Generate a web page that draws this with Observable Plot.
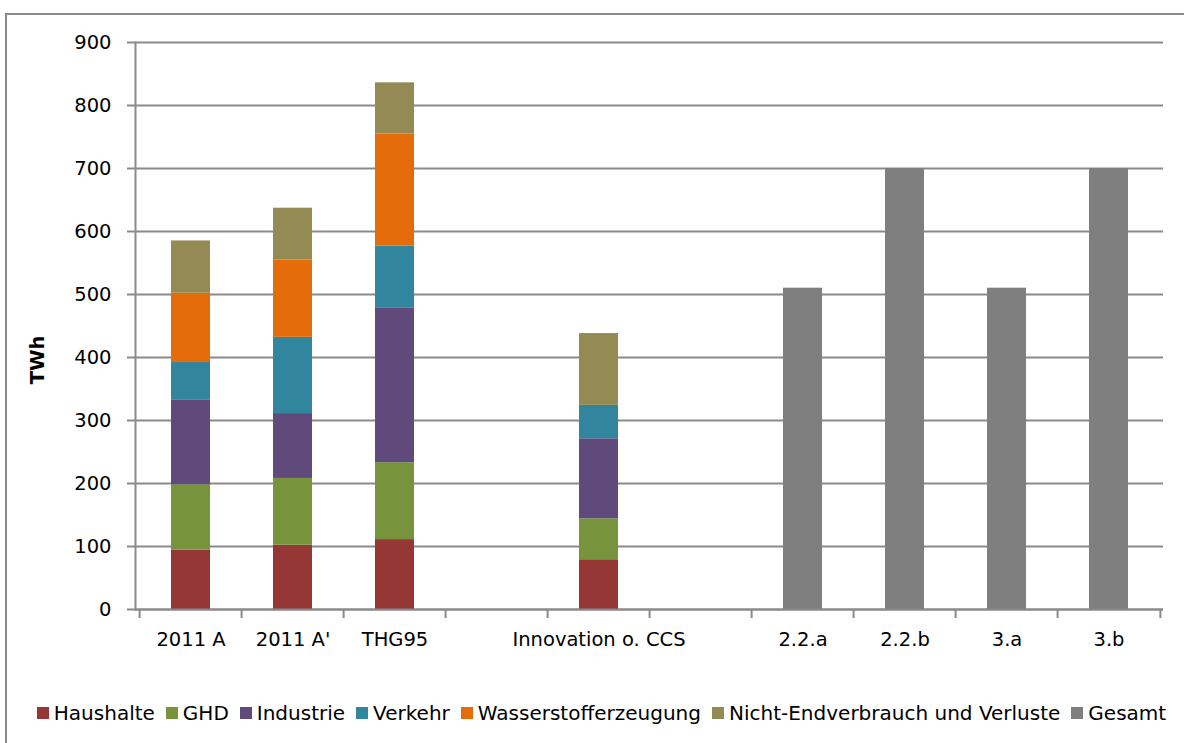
<!DOCTYPE html>
<html>
<head>
<meta charset="utf-8">
<script src="https://cdn.jsdelivr.net/npm/d3@7"></script>
<script src="https://cdn.jsdelivr.net/npm/@observablehq/plot@0.6"></script>
<style>
  html, body { margin: 0; padding: 0; background: #fff; }
  body { width: 1184px; height: 743px; position: relative; overflow: hidden; font-family: "DejaVu Sans", sans-serif; }
  #border { position: absolute; left: 5px; top: 13px; width: 1200px; height: 800px; border-left: 2px solid #8a8a8a; border-top: 2px solid #8a8a8a; box-sizing: border-box; }
  #chart { position: absolute; left: 0; top: 0; }
  #legend { position: absolute; left: 0; top: 699px; width: 1184px; display: flex; justify-content: center; padding-left: 30px; box-sizing: border-box; font-size: 20px; line-height: 28px; color: #000; white-space: nowrap; }
  .item { display: flex; align-items: center; margin-right: 11px; }
  .sw { width: 12px; height: 12px; margin-right: 5px; }
</style>
</head>
<body>
<div id="border"></div>
<div id="chart"></div>
<div id="legend"></div>
<script>
const categories = ["2011 A", "2011 A'", "THG95", " ", "Innovation o. CCS", "  ", "2.2.a", "2.2.b", "3.a", "3.b"];
const seriesNames = ["Haushalte", "GHD", "Industrie", "Verkehr", "Wasserstofferzeugung", "Nicht-Endverbrauch und Verluste", "Gesamt"];
const seriesColors = ["#953735", "#77933C", "#604A7B", "#31859C", "#E46C0A", "#948A54", "#7F7F7F"];
const haushalte = [94, 102, 111, null, 79, null, null, null, null, null];
const ghd = [104, 106, 122, null, 65, null, null, null, null, null];
const industrie = [134, 103, 245, null, 127, null, null, null, null, null];
const verkehr = [60, 121, 99, null, 53, null, null, null, null, null];
const wasserstoff = [110, 123, 178, null, 0, null, null, null, null, null];
const nichtEnd = [83, 82, 81, null, 114, null, null, null, null, null];
const gesamt = [null, null, null, null, null, null, 510, 700, 510, 700];
const yTicks = [0, 100, 200, 300, 400, 500, 600, 700, 800, 900];

const seriesValues = [haushalte, ghd, industrie, verkehr, wasserstoff, nichtEnd, gesamt];
const data = [];
seriesValues.forEach((vals, si) => {
  vals.forEach((v, ci) => {
    if (v != null) data.push({cat: categories[ci], series: seriesNames[si], value: v});
  });
});

const W = 1184, H = 672;
const mL = 135, mR = 21, mT = 42, mB = H - 609;
const step = (W - mL - mR) / categories.length;
const font = "'DejaVu Sans', sans-serif";
const fs = 19.5;

const plot = Plot.plot({
  width: W,
  height: H,
  marginLeft: mL,
  marginRight: mR,
  marginTop: mT,
  marginBottom: mB,
  style: {fontFamily: font, fontSize: fs + "px", color: "#000", background: "transparent", overflow: "visible"},
  x: {domain: categories, paddingInner: 0.62, paddingOuter: 0.31, label: null},
  y: {domain: [0, 900], label: null},
  color: {domain: seriesNames, range: seriesColors},
  marks: [
    Plot.gridY(yTicks, {stroke: "#8a8a8a", strokeOpacity: 1, strokeWidth: 2}),
    Plot.axisY(yTicks, {tickSize: 8, tickPadding: 16, stroke: "#8a8a8a", strokeWidth: 2, fontSize: fs, fill: "#000"}),
    Plot.barY(data, Plot.stackY({x: "cat", y: "value", fill: "series", order: seriesNames})),
    Plot.ruleY([0], {stroke: "#8a8a8a", strokeWidth: 2}),
    Plot.frame({anchor: "left", stroke: "#8a8a8a", strokeWidth: 2}),
    Plot.axisX({tickSize: 0, tickPadding: 23, fontSize: fs, fill: "#000", tickFormat: d => d.trim()}),
    Plot.axisX({tickSize: 9, dx: -step / 2, text: null, stroke: "#8a8a8a", strokeWidth: 2}),
    Plot.axisX([categories[categories.length - 1]], {tickSize: 9, dx: step / 2, text: null, stroke: "#8a8a8a", strokeWidth: 2})
  ]
});

d3.select(plot).append("text")
  .attr("transform", "translate(44,360) rotate(-90)")
  .attr("text-anchor", "middle")
  .attr("font-family", font)
  .attr("font-size", fs)
  .attr("font-weight", "bold")
  .attr("fill", "#000")
  .text("TWh");

document.getElementById("chart").appendChild(plot);

const legend = d3.select("#legend");
seriesNames.forEach((name, i) => {
  const item = legend.append("div").attr("class", "item");
  item.append("div").attr("class", "sw").style("background", seriesColors[i]);
  item.append("span").text(name);
});
</script>
</body>
</html>
